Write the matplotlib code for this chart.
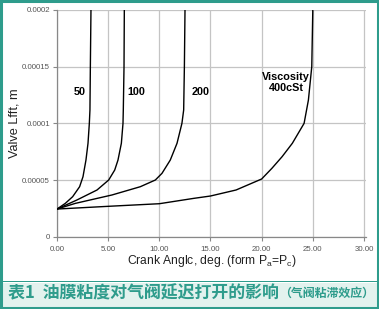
import matplotlib
matplotlib.use("Agg")
import matplotlib.pyplot as plt
from matplotlib.patches import Rectangle

# ---- data ----
x50 = [0, 0.81, 1.53, 2.21, 2.54, 2.83, 3.03, 3.16, 3.22, 3.26, 3.32]
y50 = [2.44e-5, 2.94e-5, 3.53e-5, 4.41e-5, 5.29e-5, 6.76e-5, 8.24e-5, 1.0e-4, 1.118e-4, 1.5e-4, 2.0e-4]

x100 = [0, 1.95, 3.91, 5.05, 5.64, 5.96, 6.29, 6.45, 6.48, 6.55, 6.58]
y100 = [2.44e-5, 3.24e-5, 4.12e-5, 5.0e-5, 5.88e-5, 6.76e-5, 8.24e-5, 1.0e-4, 1.118e-4, 1.5e-4, 2.0e-4]

x200 = [0, 1.79, 5.37, 8.14, 9.61, 10.26, 11.07, 11.73, 12.21, 12.38, 12.45, 12.51]
y200 = [2.44e-5, 2.94e-5, 3.68e-5, 4.41e-5, 5.0e-5, 5.59e-5, 6.76e-5, 8.24e-5, 1.0e-4, 1.118e-4, 1.5e-4, 2.0e-4]

x400 = [0, 5, 10, 13.35, 15, 17.5, 20, 21, 22, 23, 24.15, 24.57, 24.9, 25.0]
y400 = [2.44e-5, 2.68e-5, 2.91e-5, 3.38e-5, 3.59e-5, 4.12e-5, 5.09e-5, 6.03e-5, 7.06e-5, 8.24e-5, 1.0e-4, 1.205e-4, 1.5e-4, 2.0e-4]

curve_labels = ["50", "100", "200", "Viscosity\n400cSt"]
label_x = [2.25, 7.8, 14.0, 22.4]
label_y = [1.28e-4, 1.28e-4, 1.28e-4, 1.36e-4]

xticks = [0, 5, 10, 15, 20, 25, 30]
xtick_labels = ["0.00", "5.00", "10.00", "15.00", "20.00", "25.00", "30.00"]
yticks = [0, 5e-5, 1e-4, 1.5e-4, 2e-4]
ytick_labels = ["0", "0.00005", "0.0001", "0.00015", "0.0002"]

caption_main = "表1  油膜粘度对气阀延迟打开的影响"
caption_sub = "（气阀粘滞效应）"

# ---- figure ----
plt.rcParams['font.family'] = ['Liberation Sans', 'DejaVu Sans']
teal = "#2e9c8c"
fig = plt.figure(figsize=(3.79, 3.09), dpi=100)
fig.patch.set_facecolor("white")

# caption band and borders
fig.patches.append(Rectangle((0, 0), 1, 26 / 309, transform=fig.transFigure,
                             facecolor="#e2f2ee", edgecolor="none", zorder=0))
fig.patches.append(Rectangle((0, 27 / 309), 1, 1.5 / 309, transform=fig.transFigure,
                             facecolor=teal, edgecolor="none", zorder=1))
fig.patches.append(Rectangle((0.002, 0.003), 0.996, 0.994, transform=fig.transFigure,
                             facecolor="none", edgecolor=teal, linewidth=2.2, zorder=2))

ax = fig.add_axes([57 / 379, 72.3 / 309, 309 / 379, 226.7 / 309])
ax.set_xlim(0, 30.2)
ax.set_ylim(0, 2e-4)

for xs, ys in [(x50, y50), (x100, y100), (x200, y200), (x400, y400)]:
    ax.plot(xs, ys, color="black", linewidth=1.0, solid_joinstyle="round", zorder=3)

for t, lx, ly in zip(curve_labels, label_x, label_y):
    ax.text(lx, ly, t, ha="center", va="center", fontsize=7.8, fontweight="bold",
            linespacing=1.05, zorder=4)

ax.set_xticks(xticks)
ax.set_xticklabels(xtick_labels)
ax.set_yticks(yticks)
ax.set_yticklabels(ytick_labels)
ax.grid(True, color="#c4c4c4", linewidth=0.9)
ax.set_axisbelow(True)
for s in ["top", "right"]:
    ax.spines[s].set_visible(False)
for s in ["left", "bottom"]:
    ax.spines[s].set_color("#888888")
    ax.spines[s].set_linewidth(0.9)
ax.tick_params(axis="both", labelsize=5.7, colors="#888888", labelcolor="#555555",
               length=3, width=0.8, pad=2)
ax.tick_params(axis="x", pad=4)

ax.set_xlabel(r"Crank Anglc, deg. (form P$_\mathregular{a}$=P$_\mathregular{c}$)",
              fontsize=8.7, color="#222222", labelpad=0)
ax.set_ylabel("Valve Lfft, m", fontsize=9.2, color="#222222", labelpad=1)

cjk = ['Noto Sans CJK SC', 'DejaVu Sans']
fig.text(8 / 379, 16 / 309, caption_main, family=cjk, fontsize=12.2, fontweight="bold",
         color=teal, ha="left", va="center")
fig.text(279 / 379, 15.5 / 309, caption_sub, family=cjk, fontsize=8.6, fontweight="bold",
         color=teal, ha="left", va="center")

fig.savefig("out.png", dpi=100, facecolor=fig.get_facecolor())
